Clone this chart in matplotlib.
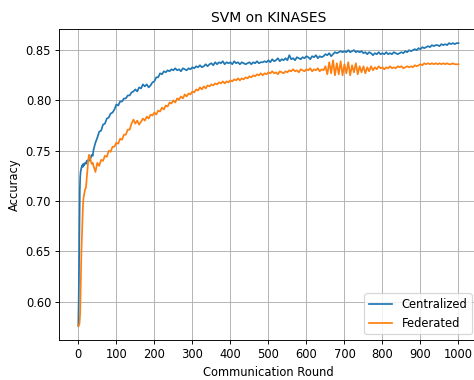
import matplotlib
matplotlib.use("Agg")
import matplotlib.pyplot as plt

# communication rounds: dense at the start, then every 5 rounds
rounds = [0, 1, 2, 3, 4, 5, 6, 7, 8, 9, 10, 11, 12, 13, 14, 16, 18, 20, 22, 24,
          26, 28, 30, 32, 35, 38, 40] + list(range(45, 1001, 5))

centralized = [
    0.576, 0.600, 0.640, 0.685, 0.712, 0.724, 0.729, 0.731, 0.733, 0.734,
    0.735, 0.736, 0.734, 0.737, 0.735, 0.737, 0.738, 0.737, 0.740, 0.739,
    0.741, 0.740, 0.743, 0.742, 0.746, 0.745, 0.751,
    0.758, 0.763, 0.769, 0.770, 0.776, 0.777, 0.782, 0.783, 0.787, 0.788,
    0.791, 0.796, 0.795, 0.799, 0.799, 0.802, 0.802, 0.805, 0.805, 0.808,
    0.809, 0.811, 0.809, 0.813, 0.812, 0.816, 0.814, 0.816, 0.813, 0.815,
    0.818, 0.819, 0.823, 0.823, 0.827, 0.826, 0.829, 0.828, 0.830, 0.829,
    0.831, 0.830, 0.832, 0.830, 0.831, 0.829, 0.832, 0.831, 0.830, 0.832,
    0.831, 0.833, 0.832, 0.834, 0.833, 0.835, 0.833, 0.834, 0.836, 0.834,
    0.836, 0.837, 0.835, 0.838, 0.836, 0.838, 0.837, 0.839, 0.836, 0.838,
    0.837, 0.838, 0.836, 0.839, 0.837, 0.838, 0.836, 0.838, 0.837, 0.836,
    0.837, 0.838, 0.836, 0.838, 0.837, 0.839, 0.837, 0.838, 0.838, 0.839,
    0.838, 0.840, 0.838, 0.841, 0.839, 0.840, 0.842, 0.839, 0.841, 0.840,
    0.842, 0.840, 0.845, 0.841, 0.842, 0.840, 0.843, 0.842, 0.841, 0.843,
    0.842, 0.844, 0.843, 0.841, 0.844, 0.843, 0.845, 0.842, 0.844, 0.843,
    0.844, 0.846, 0.845, 0.847, 0.844, 0.846, 0.848, 0.847, 0.848, 0.849,
    0.848, 0.849, 0.848, 0.850, 0.848, 0.849, 0.850, 0.848, 0.849, 0.848,
    0.849, 0.847, 0.848, 0.846, 0.848, 0.847, 0.845, 0.847, 0.846, 0.848,
    0.846, 0.847, 0.846, 0.848, 0.846, 0.847, 0.846, 0.848, 0.847, 0.846,
    0.847, 0.848, 0.847, 0.849, 0.848, 0.850, 0.849, 0.850, 0.851, 0.850,
    0.852, 0.851, 0.853, 0.852, 0.853, 0.854, 0.853, 0.855, 0.854, 0.855,
    0.855, 0.854, 0.856, 0.855, 0.856, 0.855, 0.857, 0.856, 0.857, 0.856,
    0.857, 0.857,
]

federated = [
    0.576, 0.576, 0.577, 0.578, 0.583, 0.590, 0.610, 0.630, 0.648, 0.660,
    0.673, 0.685, 0.693, 0.700, 0.704, 0.708, 0.712, 0.713, 0.722, 0.732,
    0.740, 0.746, 0.744, 0.741, 0.737, 0.738, 0.735,
    0.729, 0.738, 0.735, 0.741, 0.740, 0.745, 0.744, 0.750, 0.749, 0.754,
    0.754, 0.758, 0.757, 0.762, 0.761, 0.766, 0.766, 0.771, 0.771, 0.777,
    0.781, 0.777, 0.780, 0.776, 0.779, 0.782, 0.780, 0.784, 0.782, 0.786,
    0.785, 0.788, 0.786, 0.790, 0.789, 0.793, 0.791, 0.795, 0.794, 0.798,
    0.797, 0.800, 0.798, 0.802, 0.801, 0.804, 0.802, 0.806, 0.804, 0.807,
    0.806, 0.809, 0.808, 0.811, 0.810, 0.813, 0.811, 0.814, 0.812, 0.815,
    0.814, 0.816, 0.815, 0.817, 0.816, 0.818, 0.817, 0.819, 0.817, 0.819,
    0.818, 0.820, 0.819, 0.821, 0.820, 0.822, 0.820, 0.822, 0.821, 0.823,
    0.822, 0.824, 0.823, 0.825, 0.824, 0.826, 0.825, 0.827, 0.825, 0.827,
    0.826, 0.828, 0.827, 0.829, 0.827, 0.828, 0.826, 0.829, 0.828, 0.827,
    0.829, 0.828, 0.830, 0.829, 0.831, 0.829, 0.830, 0.828, 0.831, 0.830,
    0.829, 0.831, 0.830, 0.832, 0.829, 0.831, 0.830, 0.832, 0.829, 0.831,
    0.830, 0.834, 0.826, 0.838, 0.827, 0.840, 0.825, 0.837, 0.826, 0.839,
    0.825, 0.836, 0.827, 0.838, 0.825, 0.835, 0.828, 0.837, 0.826, 0.834,
    0.828, 0.834, 0.827, 0.833, 0.829, 0.834, 0.830, 0.833, 0.831, 0.834,
    0.832, 0.833, 0.831, 0.833, 0.832, 0.834, 0.832, 0.833, 0.832, 0.834,
    0.833, 0.834, 0.832, 0.833, 0.834, 0.833, 0.834, 0.833, 0.835, 0.834,
    0.835, 0.836, 0.835, 0.837, 0.836, 0.837, 0.836, 0.837, 0.836, 0.837,
    0.836, 0.837, 0.836, 0.837, 0.836, 0.837, 0.836, 0.836, 0.837, 0.836,
    0.836, 0.836,
]

DPI = 83
fig = plt.figure(figsize=(474 / DPI, 380 / DPI), dpi=DPI)
# axes runs slightly past the right edge of the canvas
ax = fig.add_axes([0.1251, 0.1053, 0.8823, 0.8184])

ax.plot(rounds, centralized, color="tab:blue", lw=1.5, label="Centralized")
ax.plot(rounds, federated, color="tab:orange", lw=1.5, label="Federated")

ax.set_xticks(range(0, 1001, 100))
ax.set_title("SVM on KINASES")
ax.set_xlabel("Communication Round")
ax.set_ylabel("Accuracy")
ax.grid(True)
ax.legend(loc="lower right")

fig.savefig("out.png", dpi=DPI)
